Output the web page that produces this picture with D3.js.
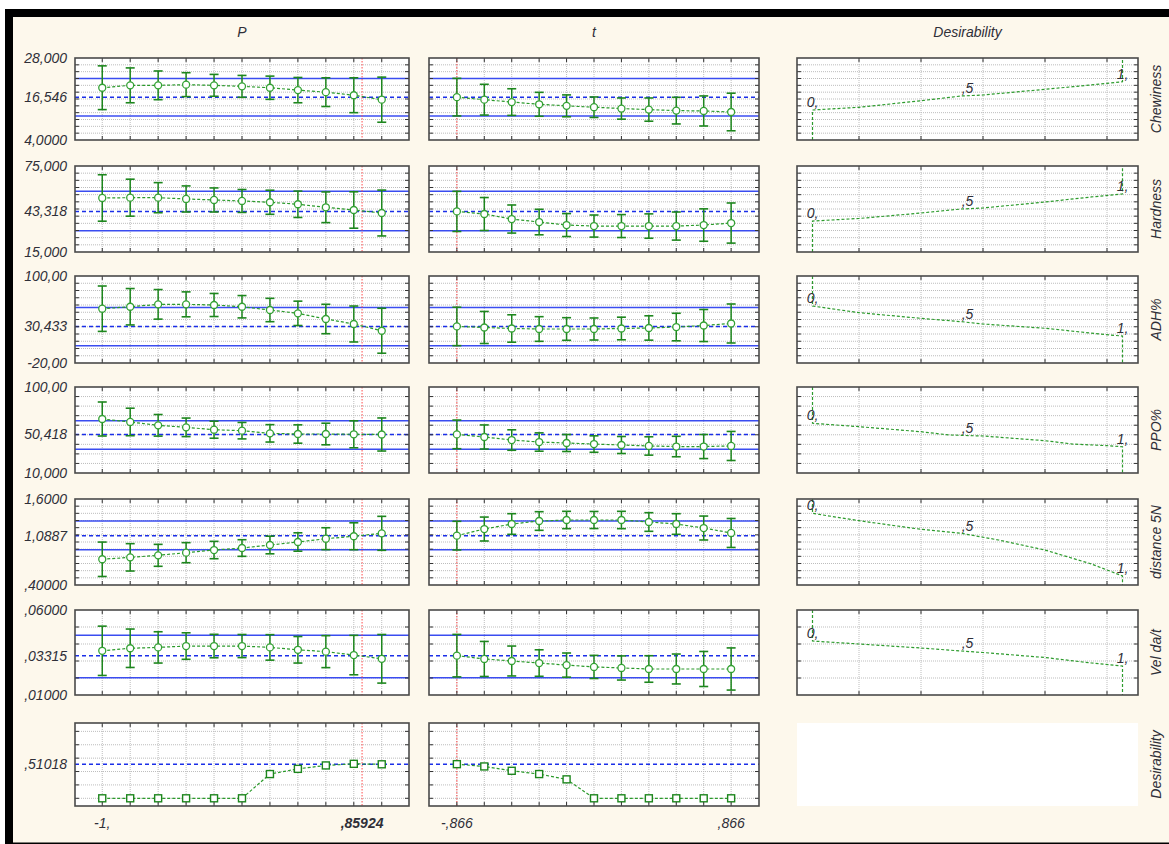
<!DOCTYPE html>
<html>
<head>
<meta charset="utf-8">
<script src="https://cdn.jsdelivr.net/npm/d3@7"></script>
<style>
  html, body { margin: 0; padding: 0; background: #ffffff; }
  svg { display: block; }
  text { font-family: "Liberation Sans", Arial, sans-serif; font-style: italic; font-size: 14px; fill: #2f2f38; }
</style>
</head>
<body>
<svg id="chart" width="1169" height="844"></svg>
<script>
// ---- factor levels and current settings ----
const levelsP = [-1, -0.8, -0.6, -0.4, -0.2, 0, 0.2, 0.4, 0.6, 0.8, 1];
const levelsT = [-0.866, -0.6928, -0.5196, -0.3464, -0.1732, 0, 0.1732, 0.3464, 0.5196, 0.6928, 0.866];
const currentP = 0.85924;
const currentT = -0.866;
const factorNames = ["P", "t", "Desirability"];
const xTickLabelsP = ["-1,", ",85924"];
const xTickLabelsT = ["-,866", ",866"];

// ---- responses ----
const responseNames = ["Chewiness", "Hardness", "ADH%", "PPO%", "distance  5N", "Vel da/t"];
const yMin = [4, 15, -20, 10, 0.4, 0.01];
const yMax = [28, 75, 100, 100, 1.6, 0.06];
const yGridStep = [2, 5, 10, 10, 0.1, 0.01];
const yTopLabels = ["28,000", "75,000", "100,00", "100,00", "1,6000", ",06000"];
const yBottomLabels = ["4,0000", "15,000", "-20,00", "10,000", ",40000", ",01000"];
const predictedLabels = ["16,546", "43,318", "30,433", "50,418", "1,0887", ",03315"];
const predicted = [16.546, 43.318, 30.433, 50.418, 1.0887, 0.03315];
const ciLower = [11.0, 29.8, 3.8, 34.8, 0.893, 0.0202];
const ciUpper = [22.0, 57.4, 56.6, 64.7, 1.293, 0.0451];

// predicted means and confidence half-widths along P
const chewinessP   = [19.3, 20.0, 20.0, 20.2, 20.0, 19.7, 19.3, 18.6, 18.0, 17.1, 15.8];
const chewinessPci = [6.4, 5.1, 4.2, 3.5, 3.2, 3.2, 3.4, 3.7, 4.2, 5.1, 6.6];
const hardnessP    = [52.7, 52.9, 52.9, 52.0, 51.3, 50.6, 49.7, 48.3, 46.2, 44.3, 42.2];
const hardnessPci  = [16.2, 12.9, 10.5, 9.1, 8.4, 8.0, 8.4, 9.2, 10.7, 12.7, 16.0];
const adhP         = [54.9, 57.6, 60.9, 60.9, 60.0, 57.6, 53.1, 48.5, 40.7, 33.8, 24.5];
const adhPci       = [31.3, 25.1, 20.4, 17.2, 15.9, 15.4, 16.1, 16.8, 20.3, 24.8, 31.0];
const ppoP         = [66.5, 63.4, 59.9, 57.8, 55.3, 54.3, 51.5, 50.8, 50.8, 50.5, 50.3];
const ppoPci       = [17.8, 14.4, 11.3, 9.7, 8.9, 8.6, 9.1, 9.6, 11.3, 14.1, 17.3];
const distanceP    = [0.759, 0.786, 0.814, 0.851, 0.888, 0.916, 0.958, 1.000, 1.046, 1.080, 1.121];
const distancePci  = [0.240, 0.191, 0.153, 0.140, 0.121, 0.116, 0.123, 0.128, 0.153, 0.188, 0.237];
const velP         = [0.0360, 0.0375, 0.0380, 0.0388, 0.0388, 0.0388, 0.0380, 0.0366, 0.0355, 0.0335, 0.0313];
const velPci       = [0.0145, 0.0113, 0.0092, 0.0078, 0.0069, 0.0068, 0.0075, 0.0078, 0.0094, 0.0116, 0.0143];

// predicted means and confidence half-widths along t
const chewinessT   = [16.546, 15.8, 15.1, 14.45, 14.0, 13.6, 13.2, 12.9, 12.6, 12.5, 12.2];
const chewinessTci = [5.5, 4.5, 3.9, 3.5, 3.2, 3.0, 3.1, 3.4, 3.9, 4.4, 5.5];
const hardnessT    = [43.318, 41.5, 38.0, 35.9, 33.8, 33.1, 33.1, 33.1, 33.1, 33.8, 35.2];
const hardnessTci  = [14.0, 11.5, 9.8, 8.9, 8.0, 7.7, 8.0, 8.5, 9.8, 11.3, 14.0];
const adhT         = [30.433, 29.0, 27.6, 26.9, 26.9, 26.9, 27.6, 28.3, 29.6, 31.7, 34.5];
const adhTci       = [26.5, 22.1, 18.9, 17.0, 15.6, 15.2, 15.6, 16.8, 19.0, 22.1, 26.9];
const ppoT         = [50.418, 47.7, 44.5, 42.4, 41.4, 40.3, 39.3, 38.3, 37.7, 37.7, 38.3];
const ppoTci       = [15.0, 12.6, 10.7, 9.6, 8.9, 8.6, 8.9, 9.6, 10.7, 12.6, 15.2];
const distanceT    = [1.0887, 1.181, 1.251, 1.293, 1.307, 1.307, 1.307, 1.279, 1.251, 1.195, 1.126];
const distanceTci  = [0.200, 0.167, 0.144, 0.130, 0.121, 0.119, 0.121, 0.130, 0.144, 0.167, 0.202];
const velT         = [0.03315, 0.0312, 0.0300, 0.0288, 0.0276, 0.0265, 0.0259, 0.0253, 0.0253, 0.0253, 0.0253];
const velTci       = [0.0125, 0.0103, 0.0088, 0.0078, 0.0071, 0.0068, 0.0071, 0.0078, 0.0088, 0.0103, 0.0124];

// desirability functions: desirability level -> response value
const chewinessDesLevels = [0, 0.15, 0.35, 0.48, 0.55, 0.75, 0.84, 0.95, 1];
const chewinessDesValues = [12.78, 13.57, 15.5, 16.88, 17.17, 18.84, 19.6, 20.6, 21.06];
const hardnessDesLevels  = [0, 0.15, 0.35, 0.48, 0.55, 0.75, 0.9, 1];
const hardnessDesValues  = [36.6, 38.4, 42.2, 45.0, 45.7, 49.9, 53.4, 55.5];
const adhDesLevels       = [0, 0.15, 0.35, 0.48, 0.55, 0.75, 0.96, 1];
const adhDesValues       = [58.6, 49.4, 41.6, 37.0, 33.8, 27.9, 18.6, 17.2];
const ppoDesLevels       = [0, 0.15, 0.35, 0.44, 0.55, 0.75, 0.84, 0.95, 1];
const ppoDesValues       = [62.0, 58.5, 53.2, 49.8, 48.7, 43.8, 40.3, 38.6, 37.5];
const distanceDesLevels  = [0, 0.15, 0.35, 0.48, 0.6, 0.75, 0.9, 1];
const distanceDesValues  = [1.400, 1.297, 1.177, 1.121, 1.028, 0.888, 0.693, 0.526];
const velDesLevels       = [0, 0.15, 0.35, 0.48, 0.55, 0.75, 0.9, 1];
const velDesValues       = [0.04175, 0.0400, 0.03764, 0.03587, 0.03499, 0.03205, 0.02882, 0.02705];
const desGridTicks = [0.15, 0.35, 0.55, 0.75, 0.95];
const desMarkLevels = [0, 0.5, 1];
const desMarkLabels = ["0,", ",5", "1,"];

// overall desirability along each factor
const overallName = "Desirability";
const overallMin = -0.115, overallMax = 1.125, overallStep = 0.2;
const overallPredicted = 0.51018;
const overallPredictedLabel = ",51018";
const overallP = [0, 0, 0, 0, 0, 0, 0.362, 0.44, 0.491, 0.515, 0.508];
const overallT = [0.51018, 0.476, 0.411, 0.362, 0.283, 0, 0, 0, 0, 0, 0];

const meansP = [chewinessP, hardnessP, adhP, ppoP, distanceP, velP];
const cisP   = [chewinessPci, hardnessPci, adhPci, ppoPci, distancePci, velPci];
const meansT = [chewinessT, hardnessT, adhT, ppoT, distanceT, velT];
const cisT   = [chewinessTci, hardnessTci, adhTci, ppoTci, distanceTci, velTci];
const desLevels = [chewinessDesLevels, hardnessDesLevels, adhDesLevels, ppoDesLevels, distanceDesLevels, velDesLevels];
const desValues = [chewinessDesValues, hardnessDesValues, adhDesValues, ppoDesValues, distanceDesValues, velDesValues];

// ---- layout ----
const W = 1169, H = 844;
const colP = [75, 409], colT = [429, 759], colD = [797, 1138];
const rowTop = [58, 166, 276, 387, 499, 610, 723];
const rowBottom = [140, 252, 363, 473, 585, 695, 806];
const labelRight = 67;

const C = {
  bg: "#fdf8ec", grid: "#bdbdbd", frame: "#4a4a4a", tick: "#333",
  bar: "#1d861d", mark: "#34a234", link: "#2b9a2b",
  blue: "#3a4cf0", blueDash: "#1b2fe8", red: "#ff4d4d", desLine: "#2d9b2d"
};

const svg = d3.select("#chart");

// outer frame
svg.append("rect").attr("x", 0).attr("y", 0).attr("width", W).attr("height", H).attr("fill", "#fff");
svg.append("rect").attr("x", 5).attr("y", 9).attr("width", W - 5).attr("height", H - 9).attr("fill", "#000");
svg.append("rect").attr("x", 13).attr("y", 17).attr("width", W - 13).attr("height", 842.5 - 17).attr("fill", C.bg);

const xP = d3.scaleLinear().domain([-1.195, 1.195]).range(colP);
const xT = d3.scaleLinear().domain([-1.042, 1.042]).range(colT);
const xD = d3.scaleLinear().domain([-0.05, 1.05]).range(colD);

function gridValues(min, max, step) {
  const out = [];
  const n = Math.round((max - min) / step);
  for (let k = 1; k < n; k++) out.push(min + k * step);
  return out;
}

function frameAndTicks(g, x0, x1, top, bottom, xs, ys) {
  const t = 4;
  g.selectAll(null).data(xs).join("line")
    .attr("x1", d => d).attr("x2", d => d).attr("y1", top).attr("y2", top + t)
    .attr("stroke", C.tick).attr("stroke-width", 1);
  g.selectAll(null).data(xs).join("line")
    .attr("x1", d => d).attr("x2", d => d).attr("y1", bottom - t).attr("y2", bottom)
    .attr("stroke", C.tick).attr("stroke-width", 1);
  g.selectAll(null).data(ys).join("line")
    .attr("x1", x0).attr("x2", x0 + t).attr("y1", d => d).attr("y2", d => d)
    .attr("stroke", C.tick).attr("stroke-width", 1);
  g.selectAll(null).data(ys).join("line")
    .attr("x1", x1 - t).attr("x2", x1).attr("y1", d => d).attr("y2", d => d)
    .attr("stroke", C.tick).attr("stroke-width", 1);
  g.append("rect").attr("x", x0).attr("y", top).attr("width", x1 - x0).attr("height", bottom - top)
    .attr("fill", "none").attr("stroke", C.frame).attr("stroke-width", 1.6);
}

function gridLines(g, x0, x1, top, bottom, xs, ys) {
  g.selectAll(null).data(xs).join("line")
    .attr("x1", d => d).attr("x2", d => d).attr("y1", top).attr("y2", bottom)
    .attr("stroke", C.grid).attr("stroke-width", 1).attr("stroke-dasharray", "1,1");
  g.selectAll(null).data(ys).join("line")
    .attr("x1", x0).attr("x2", x1).attr("y1", d => d).attr("y2", d => d)
    .attr("stroke", C.grid).attr("stroke-width", 1).attr("stroke-dasharray", "1,1");
}

function hline(g, x0, x1, yv, color, dash) {
  g.append("line").attr("x1", x0).attr("x2", x1).attr("y1", yv).attr("y2", yv)
    .attr("stroke", color).attr("stroke-width", 1.5).attr("stroke-dasharray", dash || null);
}

function profilePanel(opt) {
  const { col, x, y, levels, means, cis, current, pred, lo, hi, grid, top, bottom, square } = opt;
  const g = svg.append("g");
  const [x0, x1] = col;
  g.append("rect").attr("x", x0).attr("y", top).attr("width", x1 - x0).attr("height", bottom - top).attr("fill", "#fff");
  const xs = levels.map(x), ys = grid.map(y);
  gridLines(g, x0, x1, top, bottom, xs, ys);
  if (lo != null) {
    hline(g, x0, x1, y(lo), C.blue);
    hline(g, x0, x1, y(hi), C.blue);
  }
  hline(g, x0, x1, y(pred), C.blueDash, "4,3");
  g.append("line").attr("x1", x(current)).attr("x2", x(current)).attr("y1", top).attr("y2", bottom)
    .attr("stroke", C.red).attr("stroke-width", 1).attr("stroke-dasharray", "1.5,1.5");

  const pts = levels.map((l, i) => ({ l, m: means[i], c: cis ? cis[i] : null }));
  g.append("path").datum(pts)
    .attr("d", d3.line().x(d => x(d.l)).y(d => y(d.m)))
    .attr("fill", "none").attr("stroke", C.link).attr("stroke-width", 1.2).attr("stroke-dasharray", "3,2");

  if (cis) {
    const bars = g.selectAll(null).data(pts).join("g");
    bars.append("line").attr("x1", d => x(d.l)).attr("x2", d => x(d.l))
      .attr("y1", d => y(d.m + d.c)).attr("y2", d => y(d.m - d.c))
      .attr("stroke", C.bar).attr("stroke-width", 1.5);
    [1, -1].forEach(s => {
      bars.append("line").attr("x1", d => x(d.l) - 4.5).attr("x2", d => x(d.l) + 4.5)
        .attr("y1", d => y(d.m + s * d.c)).attr("y2", d => y(d.m + s * d.c))
        .attr("stroke", C.bar).attr("stroke-width", 1.6);
    });
  }
  if (square) {
    g.selectAll(null).data(pts).join("rect")
      .attr("x", d => x(d.l) - 3.5).attr("y", d => y(d.m) - 3.5).attr("width", 7).attr("height", 7)
      .attr("fill", "#fff").attr("stroke", C.bar).attr("stroke-width", 1.4);
  } else {
    g.selectAll(null).data(pts).join("circle")
      .attr("cx", d => x(d.l)).attr("cy", d => y(d.m)).attr("r", 3.5)
      .attr("fill", "#fff").attr("stroke", C.mark).attr("stroke-width", 1.3);
  }
  frameAndTicks(g, x0, x1, top, bottom, xs, ys);
}

function desirabilityPanel(opt) {
  const { y, levels, values, min, max, grid, top, bottom } = opt;
  const g = svg.append("g");
  const [x0, x1] = colD;
  g.append("rect").attr("x", x0).attr("y", top).attr("width", x1 - x0).attr("height", bottom - top).attr("fill", "#fff");
  const xs = desGridTicks.map(xD), ys = grid.map(y);
  gridLines(g, x0, x1, top, bottom, xs, ys);

  const rising = values[values.length - 1] > values[0];
  const pts = [[0, rising ? min : max]]
    .concat(levels.map((l, i) => [l, values[i]]))
    .concat([[1, rising ? max : min]]);
  g.append("path").datum(pts)
    .attr("d", d3.line().x(d => xD(d[0])).y(d => y(d[1])))
    .attr("fill", "none").attr("stroke", C.desLine).attr("stroke-width", 1.2).attr("stroke-dasharray", "3,2");

  const interp = d3.scaleLinear().domain(levels).range(values);
  g.selectAll(null).data(desMarkLevels).join("text")
    .attr("x", d => xD(d)).attr("y", d => y(interp(d)) - 3)
    .attr("text-anchor", "middle")
    .text((d, i) => desMarkLabels[i]);

  frameAndTicks(g, x0, x1, top, bottom, xs, ys);
}

// column titles
[[colP, factorNames[0]], [colT, factorNames[1]], [colD, factorNames[2]]].forEach(([c, name]) => {
  svg.append("text").attr("x", (c[0] + c[1]) / 2).attr("y", 37).attr("text-anchor", "middle").text(name);
});

// response rows
responseNames.forEach((name, i) => {
  const top = rowTop[i], bottom = rowBottom[i];
  const y = d3.scaleLinear().domain([yMin[i], yMax[i]]).range([bottom, top]);
  const grid = gridValues(yMin[i], yMax[i], yGridStep[i]);

  profilePanel({ col: colP, x: xP, y, levels: levelsP, means: meansP[i], cis: cisP[i], current: currentP,
    pred: predicted[i], lo: ciLower[i], hi: ciUpper[i], grid, top, bottom });
  profilePanel({ col: colT, x: xT, y, levels: levelsT, means: meansT[i], cis: cisT[i], current: currentT,
    pred: predicted[i], lo: ciLower[i], hi: ciUpper[i], grid, top, bottom });
  desirabilityPanel({ y, levels: desLevels[i], values: desValues[i], min: yMin[i], max: yMax[i], grid, top, bottom });

  // value labels on the left
  [[yMax[i], yTopLabels[i]], [predicted[i], predictedLabels[i]], [yMin[i], yBottomLabels[i]]].forEach(([v, lab]) => {
    svg.append("text").attr("x", labelRight).attr("y", y(v)).attr("dy", "0.36em")
      .attr("text-anchor", "end").text(lab);
  });

  // response name on the right
  svg.append("text")
    .attr("transform", `translate(1156,${(top + bottom) / 2}) rotate(-90)`)
    .attr("dy", "0.36em").attr("text-anchor", "middle").text(name);
});

// overall desirability row
{
  const top = rowTop[6], bottom = rowBottom[6];
  const y = d3.scaleLinear().domain([overallMin, overallMax]).range([bottom, top]);
  const grid = d3.range(0, 1.0001, overallStep);
  profilePanel({ col: colP, x: xP, y, levels: levelsP, means: overallP, cis: null, current: currentP,
    pred: overallPredicted, lo: null, hi: null, grid, top, bottom, square: true });
  profilePanel({ col: colT, x: xT, y, levels: levelsT, means: overallT, cis: null, current: currentT,
    pred: overallPredicted, lo: null, hi: null, grid, top, bottom, square: true });
  svg.append("rect").attr("x", colD[0]).attr("y", top).attr("width", colD[1] - colD[0]).attr("height", bottom - top)
    .attr("fill", "#fff");
  svg.append("text").attr("x", labelRight).attr("y", y(overallPredicted)).attr("dy", "0.36em")
    .attr("text-anchor", "end").text(overallPredictedLabel);
  svg.append("text")
    .attr("transform", `translate(1156,${(top + bottom) / 2}) rotate(-90)`)
    .attr("dy", "0.36em").attr("text-anchor", "middle").text(overallName);

  // factor value labels under the bottom row
  const by = 828;
  svg.append("text").attr("x", xP(levelsP[0])).attr("y", by).attr("text-anchor", "middle").text(xTickLabelsP[0]);
  svg.append("text").attr("x", xP(currentP)).attr("y", by).attr("text-anchor", "middle")
    .attr("font-weight", "bold").text(xTickLabelsP[1]);
  svg.append("text").attr("x", xT(levelsT[0])).attr("y", by).attr("text-anchor", "middle").text(xTickLabelsT[0]);
  svg.append("text").attr("x", xT(levelsT[levelsT.length - 1])).attr("y", by).attr("text-anchor", "middle").text(xTickLabelsT[1]);
}
</script>
</body>
</html>
